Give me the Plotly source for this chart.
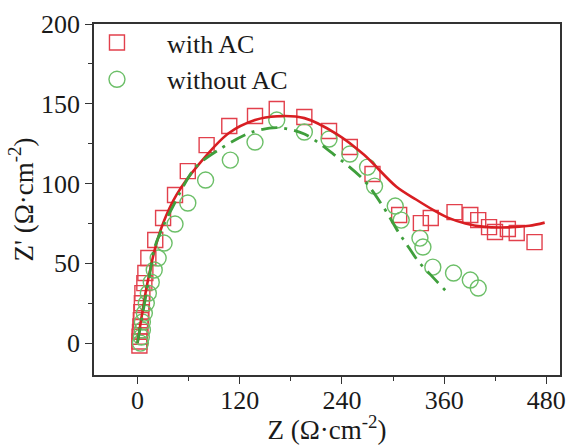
import plotly.graph_objects as go

# measured data: with AC (squares)
with_x = [2.3, 2.3, 2.5, 3.0, 3.5, 4.0, 4.6, 5.2, 5.8, 8.1, 9.3, 12.8, 20.9, 30.1, 44.1, 59.1, 81.2, 107.8, 138.0, 163.5,
          195.9, 224.9, 249.3, 275.9, 307.2, 332.7, 344.3, 372.2, 390.7, 400.0, 412.7, 419.7, 434.8, 445.2, 466.1]
with_y = [-1.5, 1.0, 4.0, 7.0, 10.5, 14.4, 19.4, 25.0, 31.3, 37.6, 43.9, 53.3, 64.6, 78.4, 92.8, 107.8, 124.1, 136.1, 142.3, 146.7,
          141.7, 132.9, 122.9, 106.0, 80.3, 75.2, 78.4, 82.1, 80.3, 77.1, 72.7, 69.6, 71.5, 69.0, 63.3]

# measured data: without AC (circles)
wo_x = [3.5, 4.6, 5.8, 5.8, 8.1, 10.4, 12.8, 16.2, 19.7, 24.3, 31.3, 44.1, 59.1, 80.0, 109.0, 138.0, 163.5, 195.9, 224.9,
        249.3, 270.1, 278.3, 302.6, 309.6, 331.6, 335.1, 346.7, 371.0, 390.7, 400.0]
wo_y = [0.0, 3.8, 8.2, 13.2, 18.8, 25.1, 31.3, 38.2, 45.8, 53.3, 62.7, 74.6, 87.8, 102.2, 114.7, 126.0, 139.8, 132.3, 127.9,
        118.5, 110.3, 98.4, 85.9, 77.1, 65.8, 60.2, 47.6, 43.9, 39.5, 34.5]

# fitted curves
fit_with_x = [0, 1.5, 3.5, 6, 10, 15, 20, 30, 46, 72, 107, 138, 164, 196, 234, 266, 304, 327, 347, 365, 385, 405, 435, 460, 478]
fit_with_y = [0, 5, 12, 20, 33, 46, 58, 75, 93, 112, 131.5, 139.8, 142.2, 141, 131, 118, 98, 90, 83.5, 78.5, 75, 73, 72.5, 73.5, 75.5]
fit_wo_x = [0, 2, 5, 10, 15, 20, 30, 41, 68, 98, 133, 165, 196, 231, 266, 289, 307, 315, 330, 342, 365]
fit_wo_y = [0, 6, 15, 30, 45, 59.6, 73, 85, 110, 122, 132, 135, 131, 118, 102, 85, 69, 62.7, 51, 44, 31]

x_ticks = [0, 120, 240, 360, 480]
y_ticks = [0, 50, 100, 150, 200]

RED_M = "#e2404c"
RED_L = "#d81e22"
GRN_M = "#6cbf68"
GRN_L = "#3f9f3c"
FONT = "Liberation Serif"
TXT = "#1a1a1a"

fig = go.Figure()
fig.add_trace(go.Scatter(x=with_x, y=with_y, mode="markers", name="with AC",
                         marker=dict(symbol="square-open", size=15, color=RED_M, line=dict(width=1.4))))
fig.add_trace(go.Scatter(x=wo_x, y=wo_y, mode="markers", name="without AC",
                         marker=dict(symbol="circle-open", size=16, color=GRN_M, line=dict(width=1.4))))
fig.add_trace(go.Scatter(x=fit_with_x, y=fit_with_y, mode="lines", showlegend=False,
                         line=dict(color=RED_L, width=2.6, shape="spline", smoothing=0.9)))
fig.add_trace(go.Scatter(x=fit_wo_x, y=fit_wo_y, mode="lines", showlegend=False,
                         line=dict(color=GRN_L, width=2.8, shape="spline", smoothing=0.9, dash="16px,7px,3px,7px")))

axis_common = dict(showgrid=False, zeroline=False, showline=True, mirror=True,
                   linecolor="#333333", linewidth=1.5, ticks="outside", ticklen=7,
                   tickwidth=1.3, tickcolor="#333333",
                   tickfont=dict(family=FONT, size=26, color=TXT))

fig.update_xaxes(range=[-51, 496], tickvals=x_ticks, ticktext=[str(v) for v in x_ticks],
                 ticklabelstandoff=-6,
                 minor=dict(ticks="outside", ticklen=4, tickvals=[60, 180, 300, 420], tickcolor="#333333"),
                 title=dict(text="Z (Ω·cm<sup>-2</sup>)", font=dict(family=FONT, size=27, color=TXT), standoff=6),
                 **axis_common)
fig.update_yaxes(range=[-20, 200], tickvals=y_ticks, ticktext=[str(v) for v in y_ticks],
                 minor=dict(ticks="outside", ticklen=4, tickvals=[25, 75, 125, 175], tickcolor="#333333"),
                 title=dict(text="Z' (Ω·cm<sup>-2</sup>)", font=dict(family=FONT, size=27, color=TXT), standoff=0),
                 **axis_common)

fig.update_layout(width=571, height=445, margin=dict(l=94, r=5, t=24, b=70),
                  paper_bgcolor="white", plot_bgcolor="white",
                  legend=dict(x=-0.058, y=1.014, xanchor="left", yanchor="top", bgcolor="rgba(0,0,0,0)",
                              font=dict(family=FONT, size=26, color=TXT), itemwidth=90,
                              tracegroupgap=0))

fig.write_html("out.html")
